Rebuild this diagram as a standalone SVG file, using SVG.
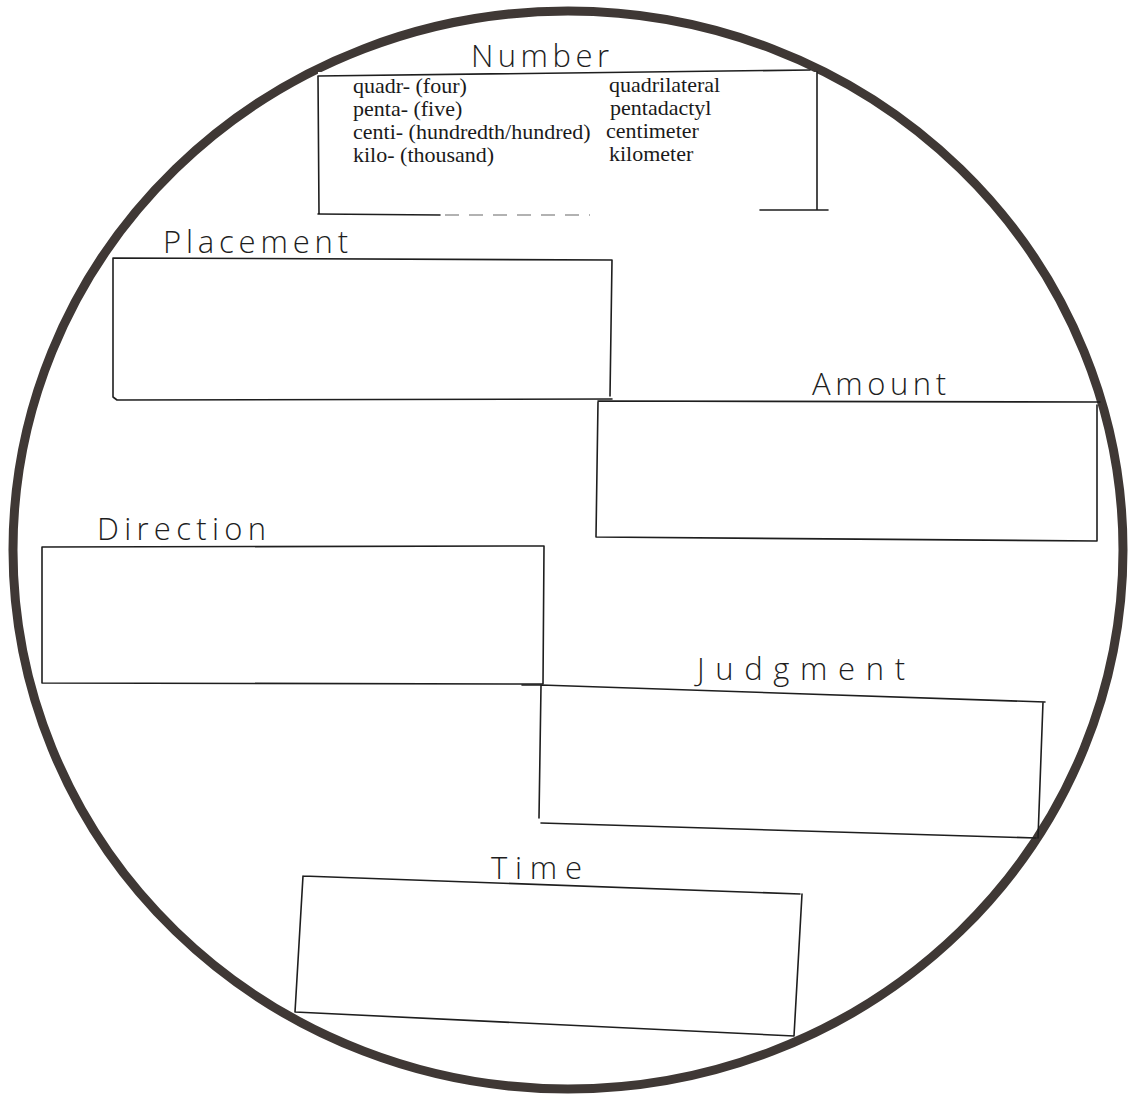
<svg xmlns="http://www.w3.org/2000/svg" width="1131" height="1098" viewBox="0 0 1131 1098">
  <style>
    .box { fill: none; stroke: #1e1e1e; stroke-width: 1.6; stroke-linecap: round; stroke-linejoin: round; }
    .faint { fill: none; stroke: #666; stroke-width: 1.2; stroke-dasharray: 14 10; }
    .hand { font-family: "Open Sans", "DejaVu Sans", sans-serif; font-weight: 300; font-size: 31px; fill: #1e1e1e; }
    .serif { font-family: "Liberation Serif", "Times New Roman", serif; font-size: 22px; fill: #1a1a1a; }
  </style>
  <rect width="1131" height="1098" fill="#ffffff"/>
  <g id="circle">
    <ellipse cx="568" cy="550" rx="555" ry="539" fill="none" stroke="#3f3835" stroke-width="9"/>
  </g>
  <g id="number">
    <rect x="318" y="72" width="499" height="141" fill="#ffffff" stroke="none"/>
    <path class="box" d="M318,76 L810,70 M817,72 L817,210 M318,76 L319,214 M318,214 L440,215 M760,210 L828,210"/>
    <path class="faint" d="M445,215 L590,215"/>
    <text class="hand" x="471" y="67" textLength="138" lengthAdjust="spacing">Number</text>
    <text class="serif" x="353" y="93">quadr- (four)</text>
    <text class="serif" x="353" y="116">penta- (five)</text>
    <text class="serif" x="353" y="139">centi- (hundredth/hundred)</text>
    <text class="serif" x="353" y="162">kilo- (thousand)</text>
    <text class="serif" x="609" y="92">quadrilateral</text>
    <text class="serif" x="610" y="115">pentadactyl</text>
    <text class="serif" x="606" y="138">centimeter</text>
    <text class="serif" x="609" y="161">kilometer</text>
  </g>
  <g id="placement">
    <path class="box" d="M113,258 L612,260 L610,396 M113,258 L113,397 L117,400 L612,399"/>
    <text class="hand" x="163" y="253" textLength="185" lengthAdjust="spacing">Placement</text>
  </g>
  <g id="amount">
    <path class="box" d="M598,401 L1100,402 M598,402 L596,537 L1097,541 L1097,405"/>
    <text class="hand" x="812" y="395" textLength="134" lengthAdjust="spacing">Amount</text>
  </g>
  <g id="direction">
    <path class="box" d="M42,547 L544,546 L543,684 L42,683 Z"/>
    <text class="hand" x="97" y="540" textLength="169" lengthAdjust="spacing">Direction</text>
  </g>
  <g id="judgment">
    <path class="box" d="M522,685 L541,685 L1045,702 M541,686 L539,818 M1043,702 L1038,838 M541,823 L1036,838"/>
    <text class="hand" x="697" y="680" textLength="208" lengthAdjust="spacing">Judgment</text>
  </g>
  <g id="time">
    <path class="box" d="M303,876 L800,894 M802,894 L794,1036 M303,876 L295,1012 M295,1012 L794,1036"/>
    <text class="hand" x="491" y="879" textLength="91" lengthAdjust="spacing">Time</text>
  </g>
  <g id="connectors"></g>
</svg>
